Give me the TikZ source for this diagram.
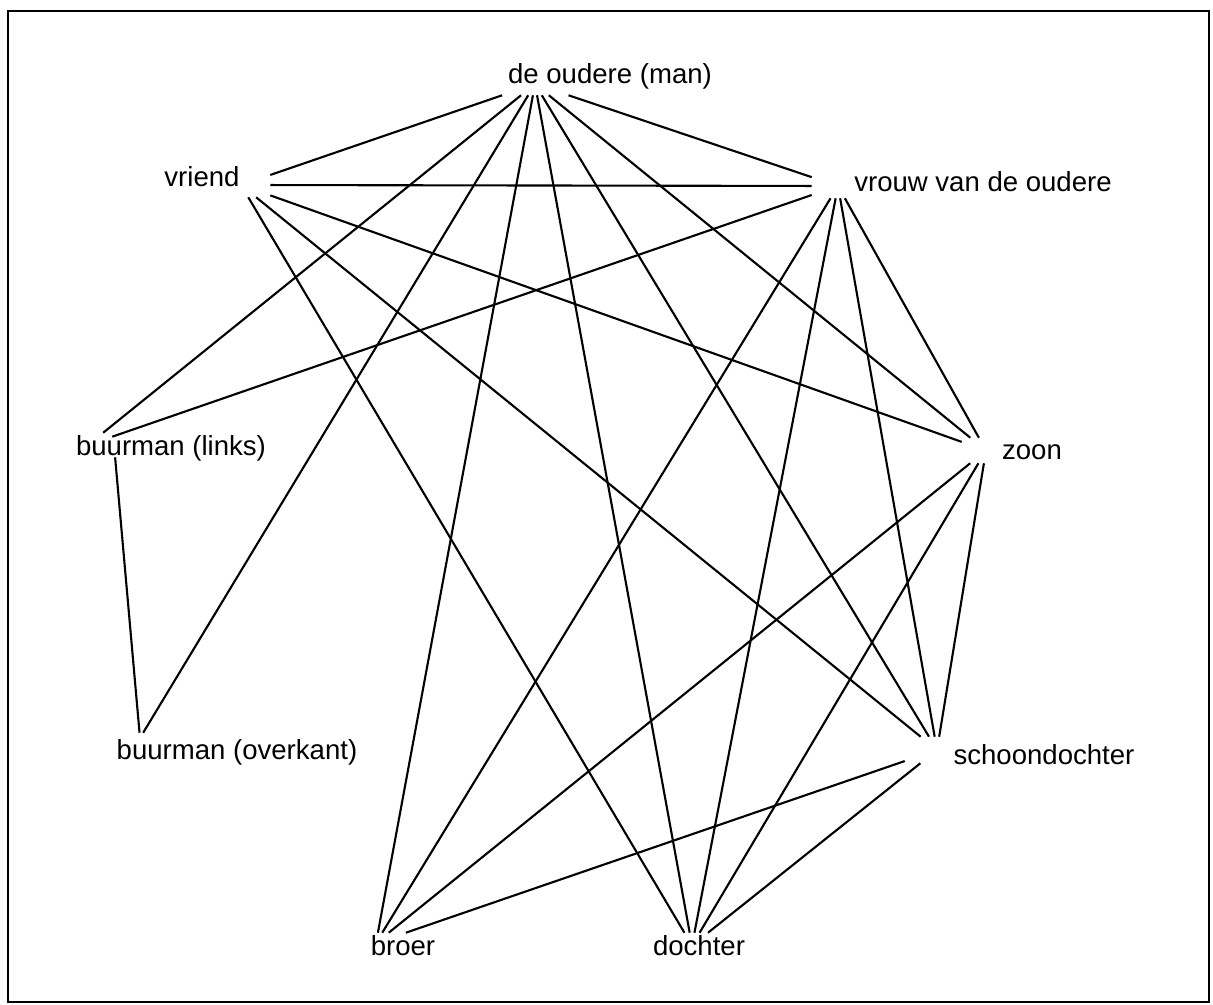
\documentclass[tikz,border=0pt]{standalone}
\usepackage{fontspec}
\setmainfont{Liberation Sans}
\begin{document}
\begin{tikzpicture}[x=0.025cm, y=-0.025cm,
  vtx/.style={rectangle, inner sep=0pt},
  lbl/.style={inner sep=0pt, font=\fontsize{19.6}{23}\selectfont},
  link/.style={line width=1.5pt}]
\useasboundingbox (0,0) rectangle (1213,1005);
\draw[line width=1.6pt] (8,11) rectangle (1209,1002);

% points where the lines meet
\node[vtx, minimum width=1.75cm, minimum height=.55cm] (O) at (535,84) {};
\node[vtx, minimum width=1.45cm, minimum height=.6cm] (V) at (241,185) {};
\node[vtx, minimum width=1.3cm, minimum height=.6cm] (W) at (838,186) {};
\node[vtx, minimum width=1.2cm, minimum height=.625cm] (Z) at (986,450.5) {};
\node[vtx, minimum width=1.6cm, minimum height=.65cm] (S) at (937,750) {};
\node[vtx, minimum width=1.2cm, minimum height=.6cm] (BL) at (88,445) {};
\node[vtx, minimum width=.25cm, minimum height=.25cm] (BO) at (140,738) {};
\node[vtx, minimum width=2cm, minimum height=.5cm] (B) at (376,943) {};
\node[vtx, minimum width=1.5cm, minimum height=.625cm] (D) at (692,945.5) {};

% names
\node[lbl] (Ol) at (610,76) {de oudere (man)};
\node[lbl] (Vl) at (202,177) {vriend};
\node[lbl] (Wl) at (983,182) {vrouw van de oudere};
\node[lbl] (BLl) at (171,448) {buurman (links)};
\node[lbl] (Zl) at (1032,452) {zoon};
\node[lbl] (BOl) at (237,752) {buurman (overkant)};
\node[lbl] (Sl) at (1044,755) {schoondochter};
\node[lbl] (Bl) at (403,946) {broer};
\node[lbl] (Dl) at (699,946) {dochter};

\foreach \a/\b in {O/V, O/W, O/BL, O/BO, O/B, O/D, O/S, O/Z,
                   V/W, V/Z, V/S, V/D,
                   W/BL, W/B, W/D, W/S, W/Z,
                   Z/B, Z/D, Z/S, S/B, S/D}
{
   \draw[link] (\a) -- (\b);
}
\draw[link] ([xshift=2pt]BL.south east) -- (BO);
\end{tikzpicture}
\end{document}
